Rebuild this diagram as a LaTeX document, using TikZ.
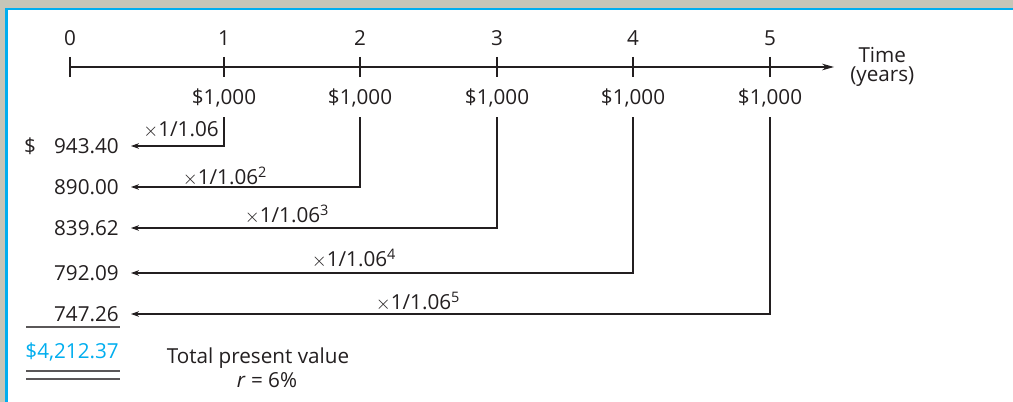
\documentclass[tikz,border=0pt]{standalone}
\usepackage{fontspec}
\setmainfont{Open Sans}
\usepackage{tikz}
\usetikzlibrary{arrows.meta,positioning}
\definecolor{ink}{HTML}{231F20}
\definecolor{cyanline}{HTML}{00AEEF}
\definecolor{frame}{HTML}{C6C6B8}
\tikzset{
  lbl/.style={font=\fontsize{15.5}{18}\selectfont, text=ink, inner sep=0pt},
  amt/.style={lbl, anchor=east},
  flow/.style={-{Stealth[length=6pt,width=4.2pt]}, line width=0.8pt, draw=ink},
  axis/.style={-{Stealth[length=9pt,width=5pt]}, line width=0.8pt, draw=ink},
  tick/.style={line width=0.8pt, draw=ink},
  rule/.style={line width=0.9pt, draw=ink!75},
}
\newcommand{\by}{$\times$}
\begin{document}
\begin{tikzpicture}[x=0.75pt,y=-0.75pt]
  % frame
  \fill[white] (0,0) rectangle (1013,402);
  \fill[frame] (0,0) rectangle (1013,8);
  \fill[frame] (0,0) rectangle (5,402);
  \fill[cyanline] (5,8) rectangle (1013,10.5);
  \fill[cyanline] (5,8) rectangle (7.5,402);
  \useasboundingbox (0,0) rectangle (1013,402);
  % time line
  \coordinate (t0) at (70,67);
  \coordinate (tend) at (834,67);
  \draw[axis] (t0) -- (tend);
  \node[lbl, font=\fontsize{15.5}{14}\selectfont, align=center, right=12pt of tend](time){Time\\(years)};
  \foreach \n/\x in {0/70,1/224,2/360,3/497,4/633,5/770}{
    \draw[tick] (\x,57) -- (\x,77);
    \node[lbl](yr\n) at (\x,38) {\n};
  }
  \foreach \n/\x in {1/224,2/360,3/497,4/633,5/770}{\node[lbl](cf\n) at (\x,98) {\$1,000};}
  % present values
  \foreach \n/\y/\v in {1/146/943.40,2/187/890.00,3/228/839.62,4/273/792.09,5/314/747.26}{\node[amt](pv\n) at (119,\y) {\v};}
  \node[lbl](dol) at (30,146) {\$};
  \foreach \n in {1,...,5}{\draw[flow]([yshift=-7.5pt]cf\n.south) |- ([xshift=9pt]pv\n.east);}
  % discount factors
  \node[lbl](m1) at (181,130) {\by1/1.06};
  \node[lbl](m2) at (225,177) {\by1/1.06\textsuperscript{2}};
  \node[lbl](m3) at (287,215) {\by1/1.06\textsuperscript{3}};
  \node[lbl](m4) at (354,259) {\by1/1.06\textsuperscript{4}};
  \node[lbl](m5) at (418,302) {\by1/1.06\textsuperscript{5}};
  % total
  \draw[rule] (26,327) -- (120,327);
  \node[amt, text=cyanline](total) at (119,352) {\$4,212.37};
  \draw[rule] (26,371) -- (120,371);
  \draw[rule] (26,379) -- (120,379);
  \node[lbl](tpv) at (258,358) {Total present value};
  \node[lbl](rate) at (267,380) {\textit{r} = 6\%};
\end{tikzpicture}
\end{document}
